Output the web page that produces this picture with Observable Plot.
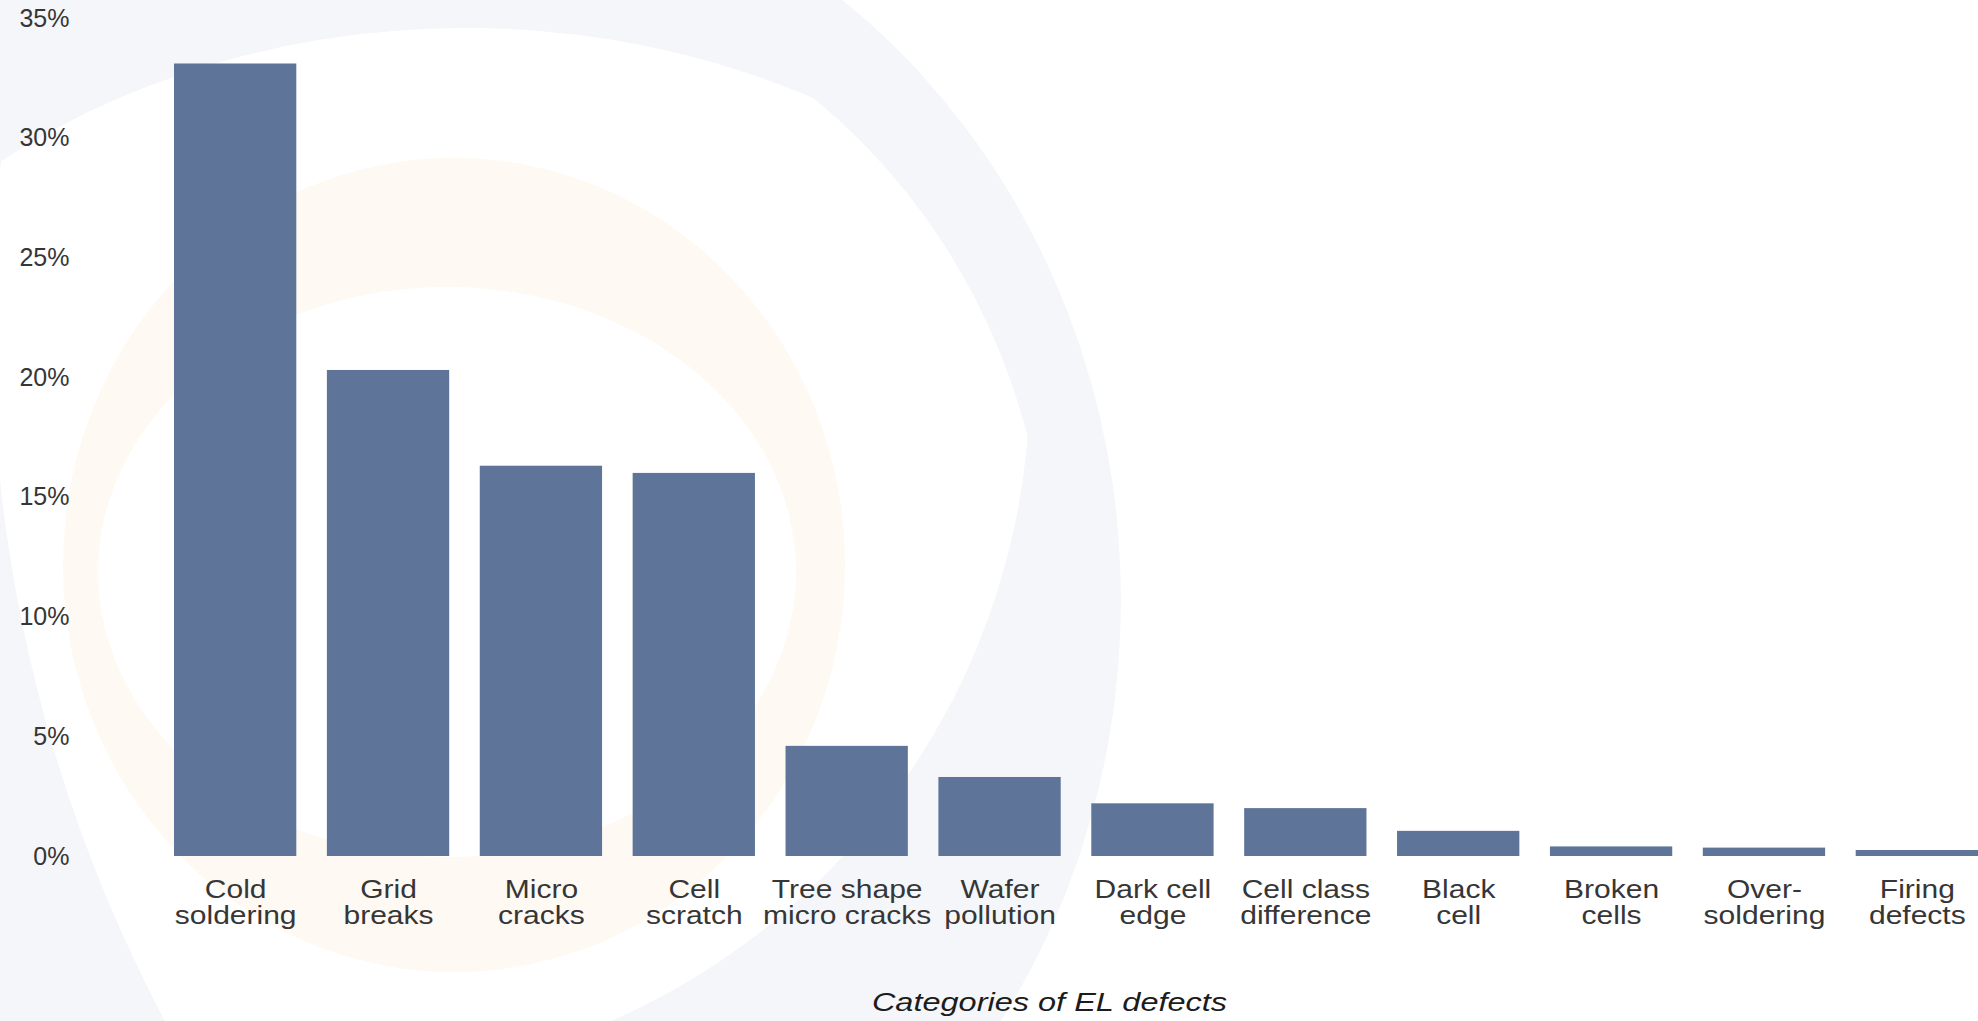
<!DOCTYPE html>
<html>
<head>
<meta charset="utf-8">
<script src="https://cdn.jsdelivr.net/npm/d3@7"></script>
<script src="https://cdn.jsdelivr.net/npm/@observablehq/plot@0.6"></script>
<style>
  html, body { margin: 0; padding: 0; background: #ffffff; }
  #chart { position: relative; width: 1978px; height: 1021px; overflow: hidden; }
  #chart > svg { position: absolute; left: 0; top: 0; }
</style>
</head>
<body>
<div id="chart"></div>
<script>
// EL defect categories (two-line labels) and their share of all defects, in percent
const categories = [
  "Cold\nsoldering",
  "Grid\nbreaks",
  "Micro\ncracks",
  "Cell\nscratch",
  "Tree shape\nmicro cracks",
  "Wafer\npollution",
  "Dark cell\nedge",
  "Cell class\ndifference",
  "Black\ncell",
  "Broken\ncells",
  "Over-\nsoldering",
  "Firing\ndefects"
];
const shares = [33.1, 20.3, 16.3, 16.0, 4.6, 3.3, 2.2, 2.0, 1.05, 0.4, 0.35, 0.25];
const yTicks = [0, 5, 10, 15, 20, 25, 30, 35];
const axisTitle = "Categories of EL defects";

const W = 1978, H = 1021;
const barColor = "#5e7599";
const textColor = "#363636";
const font = "'Liberation Sans', Arial, Helvetica, sans-serif";

const rows = categories.map((c, i) => ({category: c, share: shares[i]}));

// faint swirl watermark behind the chart
const ellipse = (cx, cy, rx, ry) =>
  `M${cx - rx},${cy}a${rx},${ry} 0 1,0 ${2 * rx},0a${rx},${ry} 0 1,0 ${-2 * rx},0Z`;
const grey = "#f5f6f9", cream = "#fef9f2";
const bg = d3.create("svg").attr("width", W).attr("height", H);
bg.append("rect").attr("width", W).attr("height", H).attr("fill", "#ffffff");
const defs = bg.append("defs");
defs.append("clipPath").attr("id", "swirl-a").append("path").attr("d", ellipse(466, 628, 740, 600));
defs.append("clipPath").attr("id", "swirl-b").append("path").attr("d", ellipse(330, 380, 700, 700));
bg.append("path").attr("d", ellipse(430, 600, 691, 747)).attr("fill", grey);
bg.append("g").attr("clip-path", "url(#swirl-b)")
  .append("path").attr("d", ellipse(430, 600, 618, 640))
  .attr("clip-path", "url(#swirl-a)").attr("fill", "#ffffff");
bg.append("path")
  .attr("d", `M0,0H${W}V${H}H0Z` + ellipse(1477, 325, 1485, 1485))
  .attr("fill-rule", "evenodd").attr("fill", grey);
bg.append("path")
  .attr("d", ellipse(454, 565, 391, 407) + ellipse(447, 572, 349, 285))
  .attr("fill-rule", "evenodd").attr("fill", cream);
document.getElementById("chart").append(bg.node());

const chart = Plot.plot({
  width: W,
  height: H,
  marginTop: 18,
  marginBottom: 165,
  marginLeft: 174,
  marginRight: 0,
  style: {background: "transparent", fontFamily: font, color: textColor, overflow: "visible"},
  x: {domain: categories, paddingInner: 0.2, paddingOuter: 0, round: false, axis: null},
  y: {domain: [0, 35], axis: null},
  marks: [
    Plot.barY(rows, {x: "category", y: "share", fill: barColor}),
    Plot.axisY(yTicks, {
      tickSize: 0,
      tickPadding: 105,
      tickFormat: d => d + "%",
      fontSize: 25,
      fill: textColor,
      label: null
    }),
    Plot.text(rows, {
      x: "category",
      frameAnchor: "bottom",
      text: "category",
      lineAnchor: "top",
      lineHeight: 1.04,
      dy: 23,
      fontSize: 25,
      fill: textColor
    }),
    Plot.text([axisTitle], {
      frameAnchor: "bottom",
      text: d => d,
      lineAnchor: "bottom",
      dy: 154,
      dx: -27,
      fontSize: 25,
      fontStyle: "italic",
      fill: "#1c1c1c"
    })
  ]
});

// the category labels and the axis title are set in a horizontally widened face:
// scale each text element about its own anchor point
function widen(el, s) {
  const t = el.getAttribute("transform") || "";
  const x = +(el.getAttribute("x") || 0), y = +(el.getAttribute("y") || 0);
  el.setAttribute("transform", `${t} translate(${x},${y}) scale(${s},1) translate(${-x},${-y})`);
}
const textGroups = d3.select(chart).selectAll('g[aria-label="text"]').nodes();
if (textGroups[0]) textGroups[0].querySelectorAll("text").forEach(el => widen(el, 1.2));
if (textGroups[1]) textGroups[1].querySelectorAll("text").forEach(el => widen(el, 1.3));
document.getElementById("chart").append(chart);
</script>
</body>
</html>
